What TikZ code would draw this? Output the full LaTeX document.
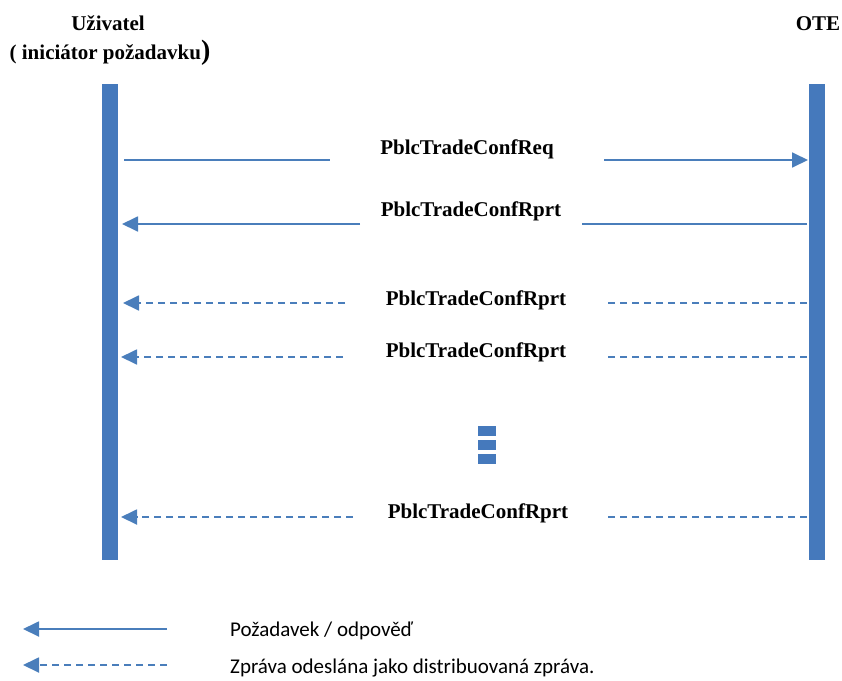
\documentclass[tikz,border=0pt]{standalone}
\usepackage{fontspec}
\setmainfont{Liberation Serif}
\newfontfamily\legendfont{Carlito}
\usetikzlibrary{arrows.meta}
\definecolor{barblue}{HTML}{4579BC}
\definecolor{lineblue}{HTML}{4A7EBB}
\tikzset{
  lifeline/.style={fill=barblue, draw=none, minimum width=16pt, minimum height=476pt, inner sep=0pt},
  msg/.style={draw=lineblue, line width=1.8pt},
  dist/.style={msg, dash pattern=on 7pt off 5pt},
  tip/.style={-{Triangle[length=16pt,width=15pt]}},
  lbl/.style={font=\bfseries\fontsize{21}{24}\selectfont, inner sep=0pt, anchor=base},
  head/.style={font=\bfseries\fontsize{21}{24}\selectfont, inner sep=0pt, anchor=base},
  legendtxt/.style={font=\legendfont\fontsize{21}{24}\selectfont, inner sep=0pt, anchor=base west},
  dot/.style={fill=barblue, draw=none, minimum width=18pt, minimum height=10pt, inner sep=0pt}
}
\begin{document}
\begin{tikzpicture}[x=1pt, y=-1pt]
\useasboundingbox (0,0) rectangle (842,680);

% participants
\node[head] (userA) at (108,30) {Uživatel};
\node[head] (userB) at (110,59) {( iniciátor požadavku{\fontsize{28}{28}\selectfont)}};
\node[head] (ote) at (818,30) {OTE};

% lifelines
\node[lifeline] (lu) at (110,322) {};
\node[lifeline] (lo) at (817,322) {};

% request
\node[lbl] (m1) at (467,154) {PblcTradeConfReq};
\coordinate (m1a) at (124,160);
\coordinate (m1b) at (330,160);
\coordinate (m1c) at (604,160);
\coordinate (m1d) at (808,160);
\draw[msg] (m1a) -- (m1b);
\draw[msg, tip] (m1c) -- (m1d);

% response
\node[lbl] (m2) at (471,216) {PblcTradeConfRprt};
\coordinate (m2a) at (807,224);
\coordinate (m2b) at (582,224);
\coordinate (m2c) at (360,224);
\coordinate (m2d) at (122,224);
\draw[msg] (m2a) -- (m2b);
\draw[msg, tip] (m2c) -- (m2d);

% distributed reports
\node[lbl] (m3) at (476,305) {PblcTradeConfRprt};
\coordinate (m3a) at (807,303);
\coordinate (m3b) at (604,303);
\coordinate (m3c) at (345,303);
\coordinate (m3d) at (123,303);
\draw[dist] (m3a) -- (m3b);
\draw[dist, tip] (m3c) -- (m3d);

\node[lbl] (m4) at (476,357) {PblcTradeConfRprt};
\coordinate (m4a) at (807,357);
\coordinate (m4b) at (604,357);
\coordinate (m4c) at (343,357);
\coordinate (m4d) at (121,357);
\draw[dist] (m4a) -- (m4b);
\draw[dist, tip] (m4c) -- (m4d);

% continuation marks
\node[dot] (d1) at (487,431) {};
\node[dot] (d2) at (487,445) {};
\node[dot] (d3) at (487,459) {};

\node[lbl] (m5) at (478,518) {PblcTradeConfRprt};
\coordinate (m5a) at (807,517);
\coordinate (m5b) at (604,517);
\coordinate (m5c) at (353,517);
\coordinate (m5d) at (121,517);
\draw[dist] (m5a) -- (m5b);
\draw[dist, tip] (m5c) -- (m5d);

% legend
\coordinate (k1a) at (167,629);
\coordinate (k1b) at (23,629);
\coordinate (k2a) at (167,665);
\coordinate (k2b) at (23,665);
\draw[msg, tip] (k1a) -- (k1b);
\draw[dist, tip] (k2a) -- (k2b);
\node[legendtxt] (k1t) at (230,636) {Požadavek / odpověď};
\node[legendtxt] (k2t) at (230,673) {Zpráva odeslána jako distribuovaná zpráva.};
\end{tikzpicture}
\end{document}
